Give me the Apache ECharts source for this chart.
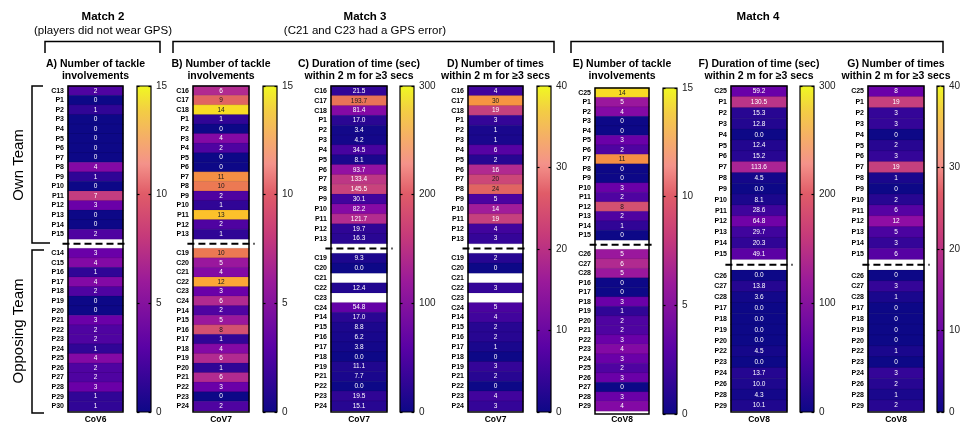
<!DOCTYPE html>
<html><head><meta charset="utf-8">
<script src="https://cdn.jsdelivr.net/npm/echarts@6/dist/echarts.min.js"></script>
<style>html,body{margin:0;padding:0;background:#fff}#c{width:963px;height:424px}</style>
</head><body><div id="c"></div>
<script>
// ---------- DATA ----------
const ownA = ['C13','P1','P2','P3','P4','P5','P6','P7','P8','P9','P10','P11','P12','P13','P14','P15'];
const ownValsA = [2,0,1,0,0,0,0,0,4,1,0,7,3,0,0,2];
const oppA = ['C14','C15','P16','P17','P18','P19','P20','P21','P22','P23','P24','P25','P26','P27','P28','P29','P30'];
const oppValsA = [3,4,1,4,2,0,0,3,2,2,1,4,2,2,3,1,1];

const ownB = ['C16','C17','C18','P1','P2','P3','P4','P5','P6','P7','P8','P9','P10','P11','P12','P13'];
const ownValsB = [6,9,14,1,0,4,2,0,0,11,10,2,1,13,2,1];
const oppB = ['C19','C20','C21','C22','C23','C24','P14','P15','P16','P17','P18','P19','P20','P21','P22','P23','P24'];
const oppValsB = [10,5,4,12,3,6,2,5,8,1,4,6,1,6,3,0,2];

const ownCD = ['C16','C17','C18','P1','P2','P3','P4','P5','P6','P7','P8','P9','P10','P11','P12','P13'];
const oppCD = ['C19','C20','C21','C22','C23','C24','P14','P15','P16','P17','P18','P19','P21','P22','P23','P24'];
const ownValsC = [21.5,193.7,81.4,17.0,3.4,4.2,34.5,8.1,93.7,133.4,145.5,30.1,82.2,121.7,19.7,16.3];
const oppValsC = [9.3,0.0,null,12.4,null,54.8,17.0,8.8,6.2,3.8,0.0,11.1,7.7,0.0,19.5,15.1];
const ownValsD = [4,30,19,3,1,1,6,2,16,20,24,5,14,19,4,3];
const oppValsD = [2,0,null,3,null,5,4,2,2,1,0,3,2,0,4,3];

const ownE = ['C25','P1','P2','P3','P4','P5','P6','P7','P8','P9','P10','P11','P12','P13','P14','P15'];
const ownValsE = [14,5,4,0,0,3,2,11,0,0,3,2,8,2,1,0];
const oppE = ['C26','C27','C28','P16','P17','P18','P19','P20','P21','P22','P23','P24','P25','P26','P27','P28','P29'];
const oppValsE = [5,6,5,0,0,3,1,2,2,3,4,3,2,3,0,3,4];

const ownFG = ['C25','P1','P2','P3','P4','P5','P6','P7','P8','P9','P10','P11','P12','P13','P14','P15'];
const oppFG = ['C26','C27','C28','P17','P18','P19','P20','P22','P23','P24','P26','P28','P29'];
const ownValsF = [59.2,130.5,15.3,12.8,0.0,12.4,15.2,113.6,4.5,0.0,8.1,28.6,64.8,29.7,20.3,49.1];
const oppValsF = [0.0,13.8,3.6,0.0,0.0,0.0,0.0,4.5,0.0,13.7,10.0,4.3,10.1];
const ownValsG = [8,19,3,3,0,2,3,19,1,0,2,6,12,5,3,6];
const oppValsG = [0,3,1,0,0,0,0,1,0,3,2,1,2];

const scaleMax = [15,15,300,40,15,300,40];
const scaleInterval = [5,5,100,10,5,100,10];
const covLabels = ['CoV6','CoV7','CoV7','CoV7','CoV8','CoV8','CoV8'];
const panelTitles = [
  'A) Number of tackle\ninvolvements',
  'B) Number of tackle\ninvolvements',
  'C) Duration of time (sec)\nwithin 2 m for \u22653 secs',
  'D) Number of times\nwithin 2 m for \u22653 secs',
  'E) Number of tackle\ninvolvements',
  'F) Duration of time (sec)\nwithin 2 m for \u22653 secs',
  'G) Number of times\nwithin 2 m for \u22653 secs'
];
const decimals = [0,0,1,0,0,1,0];

// ---------- BUILD ----------
const panels = [
  [ownA, ownValsA, oppA, oppValsA],
  [ownB, ownValsB, oppB, oppValsB],
  [ownCD, ownValsC, oppCD, oppValsC],
  [ownCD, ownValsD, oppCD, oppValsD],
  [ownE, ownValsE, oppE, oppValsE],
  [ownFG, ownValsF, oppFG, oppValsF],
  [ownFG, ownValsG, oppFG, oppValsG]
];
// layout (pixels)
const layout = [
  {hx:68, hw:55, cx:137, top:86, h:326},
  {hx:193,hw:56, cx:263, top:86, h:326},
  {hx:331,hw:56, cx:400, top:86, h:326},
  {hx:468,hw:55, cx:537, top:86, h:326},
  {hx:595,hw:54, cx:663, top:88, h:326},
  {hx:731,hw:56, cx:800, top:86, h:326},
  {hx:868,hw:56, cx:937, top:86, h:326}
];
const FONT = '"Liberation Sans", Arial, Helvetica, sans-serif';
const PLASMA = ['#0d0887','#41049d','#6a00a8','#8f0da4','#b12a90','#cc4778','#e16462','#f2844b','#fca636','#fcce25','#f0f921'];

const grid=[], xAxis=[], yAxis=[], series=[], visualMap=[], graphic=[];

panels.forEach((p,k)=>{
  const [own, ownV, opp, oppV] = p;
  const L = layout[k];
  const M = scaleMax[k];
  const cats = own.concat([''], opp);
  const vals = ownV.concat([null], oppV);
  const gapIdx = own.length;
  const gH = 2*k, gC = 2*k+1;
  grid.push({left:L.hx, top:L.top, width:L.hw, height:L.h, show:true, backgroundColor:'#fff', borderWidth:0});
  grid.push({left:L.cx, top:L.top, width:14, height:L.h, show:true, borderColor:'#000', borderWidth:1.2,
    backgroundColor: new echarts.graphic.LinearGradient(0,0,0,1,[
      {offset:0,color:'#f0f921'},{offset:0.08,color:'#f3cc45'},{offset:0.17,color:'#f5aa6c'},
      {offset:0.24,color:'#f4928a'},{offset:0.33,color:'#e05c68'},{offset:0.46,color:'#c63a7a'},
      {offset:0.6,color:'#9a1a9a'},{offset:0.8,color:'#5a02a5'},{offset:1,color:'#0d0887'}])});
  const xH = xAxis.length;
  xAxis.push({type:'category', gridIndex:gH, data:[covLabels[k]], axisLine:{show:false}, axisTick:{show:false},
    axisLabel:{fontSize:8.5, fontWeight:'bold', color:'#000', fontFamily:FONT, margin:4}});
  xAxis.push({type:'category', gridIndex:gC, data:[''], show:false});
  const xD = xAxis.length;
  xAxis.push({type:'value', gridIndex:gH, min:0, max:1, show:false});
  const yH = yAxis.length;
  yAxis.push({type:'category', gridIndex:gH, data:cats, inverse:true, axisLine:{show:false}, axisTick:{show:false},
    axisLabel:{fontSize:7, fontWeight:'bold', color:'#000', fontFamily:FONT, margin:4, interval:0}});
  yAxis.push({type:'value', gridIndex:gC, min:0, max:M, interval:scaleInterval[k], position:'right',
    axisLine:{show:false}, splitLine:{show:false},
    axisTick:{show:true, inside:true, length:2.5, lineStyle:{color:'#000', width:1.2}},
    axisLabel:{fontSize:10, color:'#222', fontFamily:FONT, margin:5}});
  yAxis.push({type:'value', gridIndex:gC, min:0, max:M, interval:scaleInterval[k], position:'left',
    axisLine:{show:false}, splitLine:{show:false}, axisLabel:{show:false},
    axisTick:{show:true, inside:true, length:2.5, lineStyle:{color:'#000', width:1.2}}});
  const data = [];
  vals.forEach((v,i)=>{
    if (v === null) return;
    data.push({value:[0,i,v], label:{color: v/M >= 0.5 ? '#1a1a1a' : '#ffffff'}});
  });
  visualMap.push({type:'continuous', show:false, seriesIndex:series.length, min:0, max:M, dimension:2,
    inRange:{color:PLASMA}});
  series.push({type:'heatmap', xAxisIndex:xH, yAxisIndex:yH, data:data,
    itemStyle:{borderColor:'rgba(0,0,0,0.18)', borderWidth:0.5},
    label:{show:true, fontSize:6.5, fontFamily:FONT,
      formatter:(pp)=>Number(pp.value[2]).toFixed(decimals[k])},
    emphasis:{disabled:true}, silent:true});
  series.push({type:'line', xAxisIndex:xD, yAxisIndex:yH, data:[[-0.1,gapIdx],[1.1,gapIdx]], clip:false,
    symbol:'none', silent:true, z:5, lineStyle:{color:'#000', width:2, type:[7,4]}});
  // heatmap frame
  graphic.push({type:'rect', z:100, silent:true, shape:{x:L.hx, y:L.top, width:L.hw, height:L.h},
    style:{fill:null, stroke:'#000', lineWidth:1.5}});
  // panel title
  graphic.push({type:'text', z:100, x:L.hx+L.hw/2, y:58.5, silent:true,
    style:{text:panelTitles[k], align:'center', verticalAlign:'top', fontSize:10.5, fontWeight:'bold',
      fontFamily:FONT, fill:'#000', lineHeight:12}});
});

// headers & brackets
function txt(t,x,y,size,bold,rot){
  return {type:'text', z:100, x:x, y:y, rotation:rot||0, silent:true,
    style:{text:t, align:'center', verticalAlign:'middle', fontSize:size, fontWeight:bold?'bold':'normal',
      fontFamily:FONT, fill:'#000'}};
}
function pl(pts){
  return {type:'polyline', z:100, silent:true, shape:{points:pts}, style:{stroke:'#000', lineWidth:1.5, fill:null}};
}
graphic.push(txt('Match 2',103,17,11.5,true));
graphic.push(txt('(players did not wear GPS)',103,31,11.5,false));
graphic.push(txt('Match 3',365,17,11.5,true));
graphic.push(txt('(C21 and C23 had a GPS error)',365,31,11.5,false));
graphic.push(txt('Match 4',758,17,11.5,true));
graphic.push(pl([[45,53],[45,41.5],[160,41.5],[160,53]]));
graphic.push(pl([[173,53],[173,41.5],[554,41.5],[554,53]]));
graphic.push(pl([[571,53],[571,41.5],[943,41.5],[943,53]]));
graphic.push(pl([[43,86],[32,86],[32,243],[50,243]]));
graphic.push(pl([[44,250],[32,250],[32,413],[44,413]]));
graphic.push(txt('Own Team',19,165,15,false,Math.PI/2));
graphic.push(txt('Opposing Team',19,331,15,false,Math.PI/2));

const chart = echarts.init(document.getElementById('c'), null, {renderer:'canvas'});
chart.setOption({
  backgroundColor:'#fff', animation:false,
  grid, xAxis, yAxis, series, visualMap, graphic
});
</script></body></html>
